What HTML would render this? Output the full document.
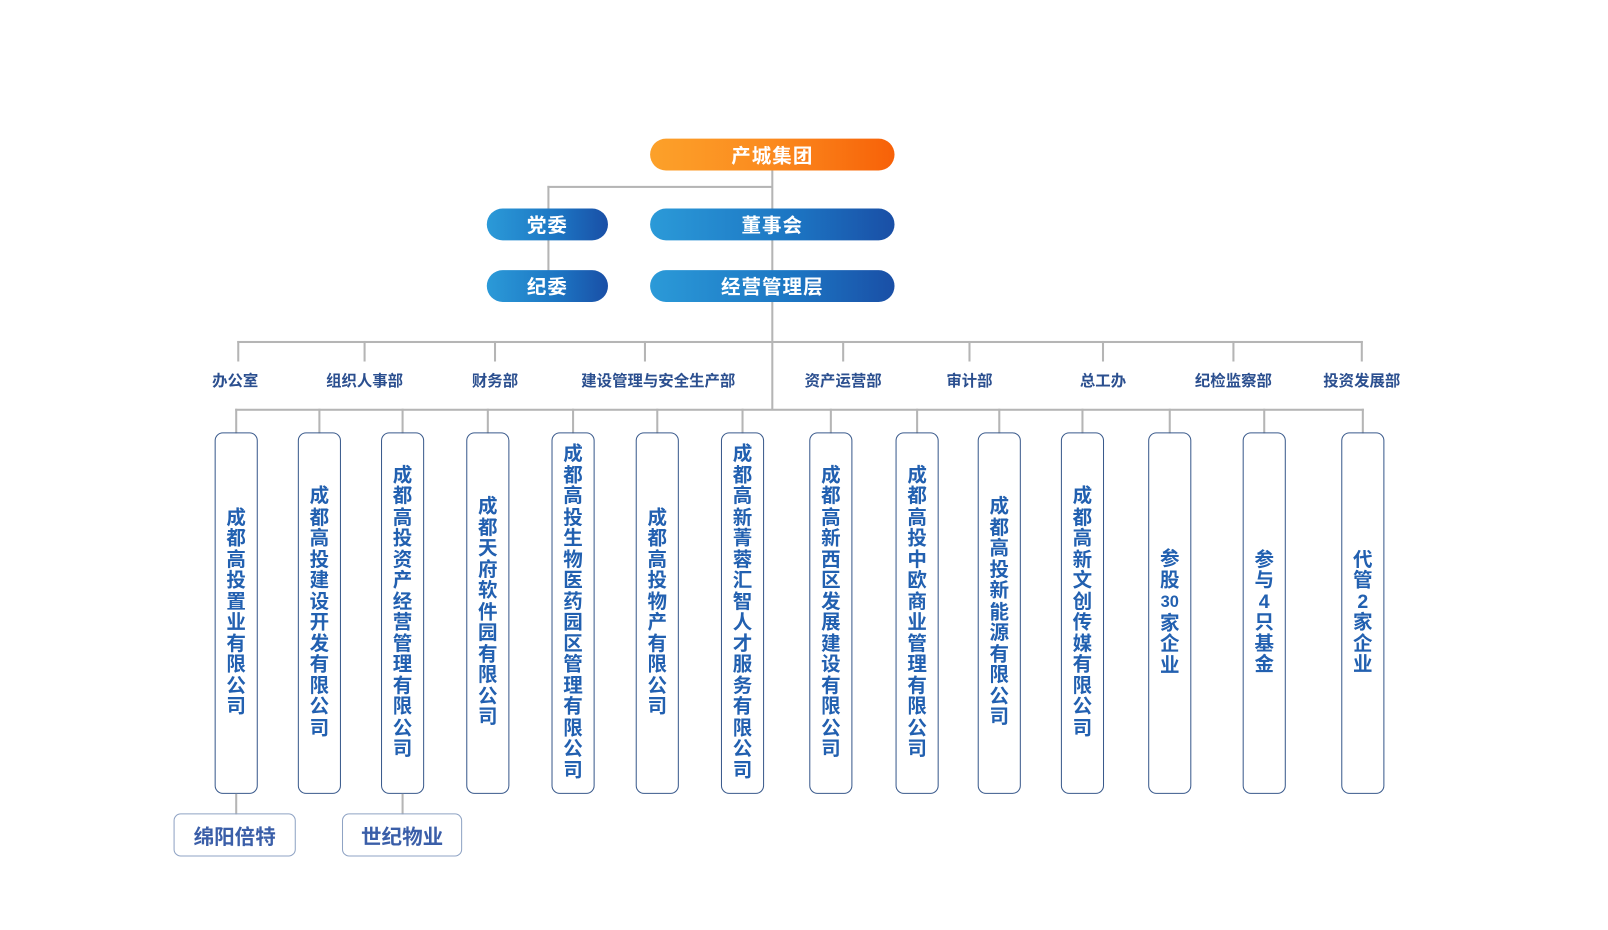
<!DOCTYPE html>
<html><head><meta charset="utf-8"><style>
body{margin:0;width:1608px;height:930px;background:#fff;position:relative;overflow:hidden;font-family:"Liberation Sans","Noto Sans CJK SC",sans-serif}
#w{position:absolute;left:0;top:0;width:1566px;height:906px;transform:scale(1.027);transform-origin:0 0}
.l{position:absolute;background:#b5b5b5}
.pill{position:absolute;height:31px;border-radius:16px;color:#fff;font-weight:bold;font-size:19px;display:flex;align-items:center;justify-content:center;letter-spacing:1px}
.blue{background:linear-gradient(90deg,#2b9ad8,#1c74c2 60%,#1a4fa6)}
.orange{background:linear-gradient(90deg,#fca12a,#fb8a1e 50%,#f76108)}
.d{position:absolute;top:360px;font-size:15px;color:#2b4f8f;transform:translateX(-50%);white-space:nowrap;font-weight:bold}
.v{position:absolute;top:421px;height:350px;width:40px;border:1.5px solid #3a5a8c;border-radius:8px;display:flex;align-items:center;justify-content:center;text-align:center;color:#2260b0;font-weight:bold;font-size:19px;line-height:20.5px;transform:translateX(-50%)}
.s{position:absolute;top:792px;height:40px;border:1.5px solid #8fa3c4;border-radius:7px;color:#3a5ea8;font-weight:bold;font-size:20px;display:flex;align-items:center;justify-content:center}
</style></head><body><div id="w">
<div class="l" style="left:751px;top:165px;width:2px;height:234px"></div>
<div class="l" style="left:533px;top:181px;width:219px;height:2px"></div>
<div class="l" style="left:533px;top:181px;width:2px;height:100px"></div>
<div class="pill orange" style="left:633px;top:135px;width:238px">产城集团</div>
<div class="pill blue" style="left:474px;top:203px;width:118px">党委</div>
<div class="pill blue" style="left:633px;top:203px;width:238px">董事会</div>
<div class="pill blue" style="left:474px;top:263px;width:118px">纪委</div>
<div class="pill blue" style="left:633px;top:263px;width:238px">经营管理层</div>
<div class="l" style="left:231px;top:332px;width:1096px;height:2px"></div>
<div class="l" style="left:231px;top:332px;width:2px;height:20px"></div>
<div class="l" style="left:354px;top:332px;width:2px;height:20px"></div>
<div class="l" style="left:481px;top:332px;width:2px;height:20px"></div>
<div class="l" style="left:627px;top:332px;width:2px;height:20px"></div>
<div class="l" style="left:820px;top:332px;width:2px;height:20px"></div>
<div class="l" style="left:943px;top:332px;width:2px;height:20px"></div>
<div class="l" style="left:1073px;top:332px;width:2px;height:20px"></div>
<div class="l" style="left:1200px;top:332px;width:2px;height:20px"></div>
<div class="l" style="left:1325px;top:332px;width:2px;height:20px"></div>
<div class="d" style="left:229px">办公室</div>
<div class="d" style="left:355px">组织人事部</div>
<div class="d" style="left:482px">财务部</div>
<div class="d" style="left:641px">建设管理与安全生产部</div>
<div class="d" style="left:821px">资产运营部</div>
<div class="d" style="left:944px">审计部</div>
<div class="d" style="left:1074px">总工办</div>
<div class="d" style="left:1201px">纪检监察部</div>
<div class="d" style="left:1326px">投资发展部</div>
<div class="l" style="left:229px;top:398px;width:1099px;height:2px"></div>
<div class="l" style="left:229px;top:398px;width:2px;height:24px"></div>
<div class="l" style="left:310px;top:398px;width:2px;height:24px"></div>
<div class="l" style="left:391px;top:398px;width:2px;height:24px"></div>
<div class="l" style="left:474px;top:398px;width:2px;height:24px"></div>
<div class="l" style="left:557px;top:398px;width:2px;height:24px"></div>
<div class="l" style="left:639px;top:398px;width:2px;height:24px"></div>
<div class="l" style="left:722px;top:398px;width:2px;height:24px"></div>
<div class="l" style="left:808px;top:398px;width:2px;height:24px"></div>
<div class="l" style="left:892px;top:398px;width:2px;height:24px"></div>
<div class="l" style="left:972px;top:398px;width:2px;height:24px"></div>
<div class="l" style="left:1053px;top:398px;width:2px;height:24px"></div>
<div class="l" style="left:1138px;top:398px;width:2px;height:24px"></div>
<div class="l" style="left:1230px;top:398px;width:2px;height:24px"></div>
<div class="l" style="left:1326px;top:398px;width:2px;height:24px"></div>
<div class="v" style="left:230px"><div>成<br>都<br>高<br>投<br>置<br>业<br>有<br>限<br>公<br>司</div></div>
<div class="v" style="left:311px"><div>成<br>都<br>高<br>投<br>建<br>设<br>开<br>发<br>有<br>限<br>公<br>司</div></div>
<div class="v" style="left:392px"><div>成<br>都<br>高<br>投<br>资<br>产<br>经<br>营<br>管<br>理<br>有<br>限<br>公<br>司</div></div>
<div class="v" style="left:475px"><div>成<br>都<br>天<br>府<br>软<br>件<br>园<br>有<br>限<br>公<br>司</div></div>
<div class="v" style="left:558px"><div>成<br>都<br>高<br>投<br>生<br>物<br>医<br>药<br>园<br>区<br>管<br>理<br>有<br>限<br>公<br>司</div></div>
<div class="v" style="left:640px"><div>成<br>都<br>高<br>投<br>物<br>产<br>有<br>限<br>公<br>司</div></div>
<div class="v" style="left:723px"><div>成<br>都<br>高<br>新<br>菁<br>蓉<br>汇<br>智<br>人<br>才<br>服<br>务<br>有<br>限<br>公<br>司</div></div>
<div class="v" style="left:809px"><div>成<br>都<br>高<br>新<br>西<br>区<br>发<br>展<br>建<br>设<br>有<br>限<br>公<br>司</div></div>
<div class="v" style="left:893px"><div>成<br>都<br>高<br>投<br>中<br>欧<br>商<br>业<br>管<br>理<br>有<br>限<br>公<br>司</div></div>
<div class="v" style="left:973px"><div>成<br>都<br>高<br>投<br>新<br>能<br>源<br>有<br>限<br>公<br>司</div></div>
<div class="v" style="left:1054px"><div>成<br>都<br>高<br>新<br>文<br>创<br>传<br>媒<br>有<br>限<br>公<br>司</div></div>
<div class="v" style="left:1139px"><div>参<br>股<br><span style="font-size:16px">30</span><br>家<br>企<br>业</div></div>
<div class="v" style="left:1231px"><div>参<br>与<br>4<br>只<br>基<br>金</div></div>
<div class="v" style="left:1327px"><div>代<br>管<br>2<br>家<br>企<br>业</div></div>
<div class="l" style="left:229px;top:773px;width:2px;height:20px"></div>
<div class="l" style="left:391px;top:773px;width:2px;height:20px"></div>
<div class="s" style="left:169px;width:117px">绵阳倍特</div>
<div class="s" style="left:333px;width:115px">世纪物业</div>
</div></body></html>
